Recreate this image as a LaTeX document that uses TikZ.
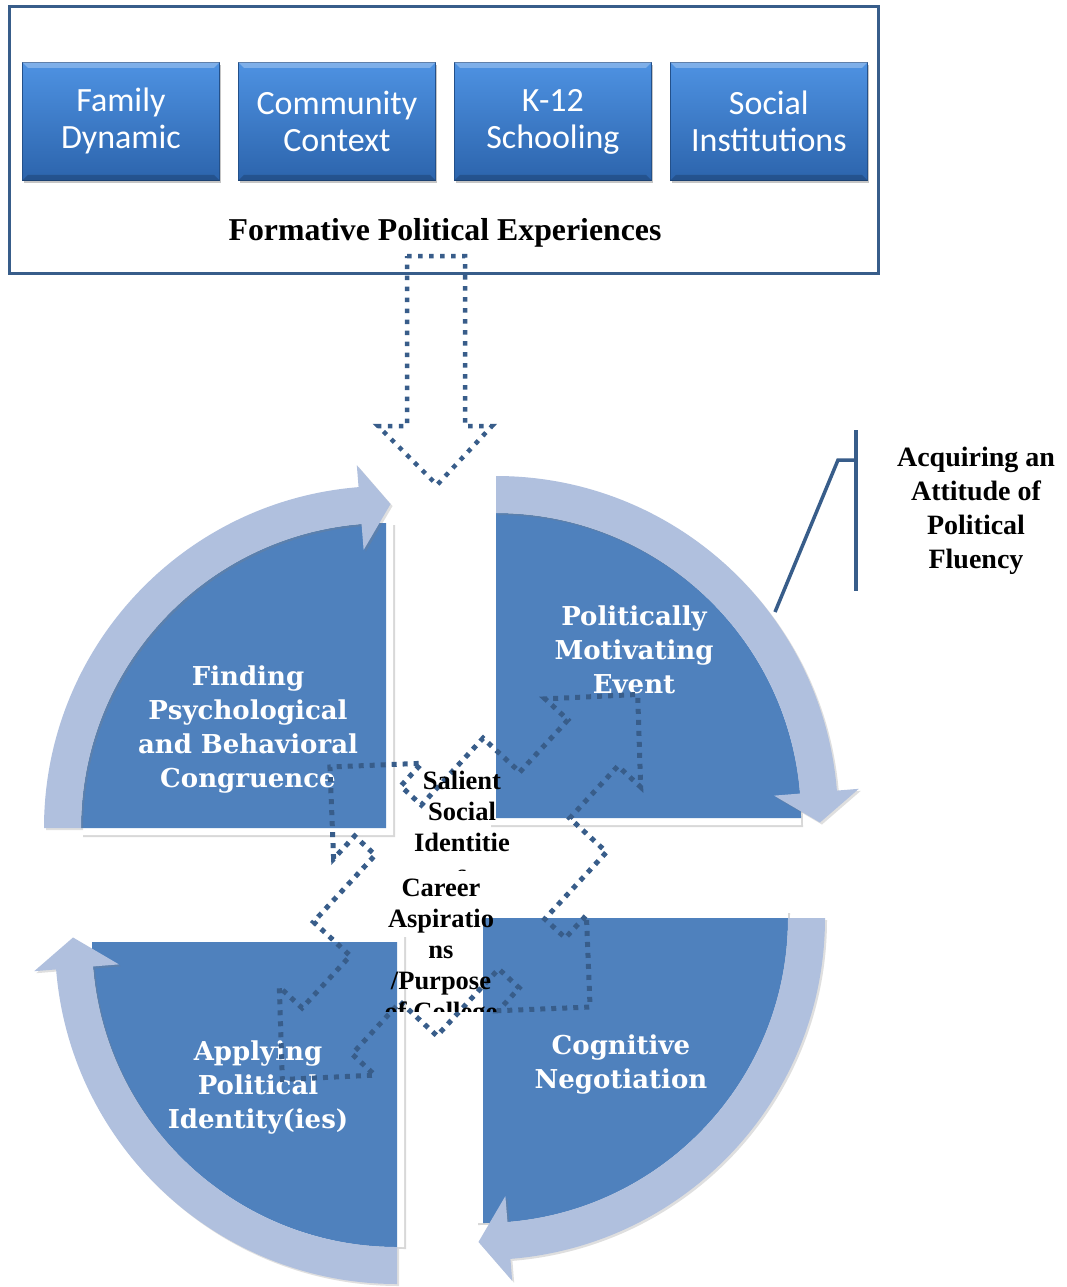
\documentclass[tikz,border=0pt]{standalone}
\usepackage{fontspec}
\setmainfont{Liberation Serif}
\newfontfamily\carl{Carlito}
\newfontfamily\dvs{DejaVu Serif}
\usetikzlibrary{shadows,calc}
\definecolor{qblue}{RGB}{79,129,189}
\definecolor{bandc}{RGB}{176,192,222}
\definecolor{dotc}{RGB}{56,93,138}
\definecolor{framec}{RGB}{56,93,138}
\definecolor{btop}{RGB}{78,146,226}
\definecolor{bbot}{RGB}{44,100,172}
\begin{document}
\begin{tikzpicture}[x=1pt,y=1pt,
  toptxt/.style={font=\carl\fontsize{34}{37}\selectfont, text=white, align=center},
  boxst/.style={top color=btop, bottom color=bbot, draw=bbot!80!black, line width=0.8pt,
     minimum width=197pt, minimum height=118pt, anchor=north west, inner sep=0pt,
     drop shadow={opacity=0.45, shadow xshift=2pt, shadow yshift=-3pt}},
  qtxt/.style={font=\dvs\bfseries\fontsize{26}{34}\selectfont, text=white, align=center},
  btxt/.style={font=\bfseries\fontsize{28}{34}\selectfont, align=center},
  ctxt/.style={font=\bfseries\fontsize{26.5}{31}\selectfont, align=center},
  dotline/.style={draw=dotc, line width=5pt, dash pattern=on 5pt off 6pt},
  brline/.style={draw=framec, line width=3.5pt},
]
\fill[white] (0,0) rectangle (1066,-1287);
\useasboundingbox (0,0) rectangle (1066,-1287);

% ---------- top group ----------
\foreach \x/\nm/\t in {22/fam/{Family\\Dynamic}, 238/com/{Community\\Context}, 454/kts/{K-12\\Schooling}, 670/soc/{Social\\Institutions}}{
  \node[boxst, toptxt] (\nm) at (\x,-62) {\t};
  \fill[white, opacity=0.28] (\nm.north west) -- (\nm.north east) -- ([shift={(-6,-6)}]\nm.north east) -- ([shift={(6,-6)}]\nm.north west) -- cycle;
  \fill[black, opacity=0.18] (\nm.south west) -- (\nm.south east) -- ([shift={(-6,6)}]\nm.south east) -- ([shift={(6,6)}]\nm.south west) -- cycle;
}
\node[font=\bfseries\fontsize{31.8}{36}\selectfont] (title) at (445,-233) {Formative Political Experiences};

% big dotted down arrow
\coordinate (dA) at (436,-256);
\draw[dotline, line width=4.5pt, dash pattern=on 4.5pt off 6.5pt]
  (407,-256) -- (465,-256) -- (465,-426) -- (492,-426) -- (437,-485) -- (378,-426) -- (407,-426) -- cycle;
\draw[framec, line width=3pt] (9,-7) rectangle (878,-273);

% ---------- quadrants ----------
\foreach \cx/\cy/\a/\ox/\oy in {386/-828/180/7/-7, 496/-818/90/-7/-7, 483/-918/0/-7/7, 397/-942/270/7/7}{
  \pgfmathsetmacro\s{\a-90}
  \pgfmathsetmacro\b{\a-85.4}
  \pgfmathsetmacro\t{\a-90.8}
  \pgfmathsetmacro\fx{\cx+\ox}
  \pgfmathsetmacro\fy{\cy+\oy}
  \fill[white, drop shadow={opacity=0.3, shadow xshift=2pt, shadow yshift=-2pt}]
    (\fx,\fy) -- ++(\s:312) arc[start angle=\s, end angle=\a, radius=312] -- cycle;
  \fill[qblue] (\cx,\cy) -- ++(\s:305) arc[start angle=\s, end angle=\a, radius=305] -- cycle;
  \fill[bandc, drop shadow={opacity=0.25, shadow xshift=2pt, shadow yshift=-2pt}]
    ($(\cx,\cy)+(\a:342)$) arc[start angle=\a, end angle=\b, radius=342]
    -- ($(\cx,\cy)+(\b:364)$) -- ($(\cx,\cy)+(\t:324)$) -- ($(\cx,\cy)+(\b:279)$)
    -- ($(\cx,\cy)+(\b:305)$) arc[start angle=\b, end angle=\a, radius=305] -- cycle;
}

\node[qtxt] (q1) at (248,-730) {Finding\\Psychological\\and Behavioral\\Congruence};
\node[qtxt] (q2) at (634,-650) {Politically\\Motivating\\Event};
\node[qtxt] (q3) at (621,-1064) {Cognitive\\Negotiation};
\node[qtxt] (q4) at (258,-1087) {Applying\\Political\\Identity(ies)};

% ---------- dotted quad arrow callout ----------
\begin{scope}[shift={(460,-887)}, rotate=47.3]
  \draw[dotline]
    (125,34) -- (196,34) -- (196,65) -- (262,0) -- (196,-65) -- (196,-34) -- (125,-34) -- (125,-84)
    -- (34,-84) -- (34,-112) -- (65,-112) -- (0,-177) -- (-65,-112) -- (-34,-112) -- (-34,-84) -- (-125,-84)
    -- (-125,-34) -- (-196,-34) -- (-196,-65) -- (-262,0) -- (-196,65) -- (-196,34) -- (-125,34) -- (-125,84)
    -- (-34,84) -- (-34,112) -- (-65,112) -- (0,177) -- (65,112) -- (34,112) -- (34,84) -- (125,84) -- cycle;
\end{scope}

\begin{scope}
  \clip (380,-760) rectangle (545,-870);
  \node[ctxt] (sal) at (462,-827) {Salient\\Social\\Identitie\\s};
\end{scope}
\begin{scope}
  \clip (370,-868) rectangle (515,-1011);
  \node[ctxt] (car) at (441,-953) {Career\\Aspiratio\\ns\\/Purpose\\of College};
\end{scope}

% ---------- bracket and label ----------
\node[btxt] (acq) at (976,-511) {Acquiring an\\Attitude of\\Political\\Fluency};
\coordinate (brT) at (856,-430);
\coordinate (brB) at (856,-591);
\coordinate (brM) at (856,-460);
\coordinate (brK) at (838,-460);
\coordinate (brE) at (775,-612);
\draw[brline] (brT) -- (brB);
\draw[brline, line join=miter] (brM) -- (brK) -- (brE);
\end{tikzpicture}
\end{document}
